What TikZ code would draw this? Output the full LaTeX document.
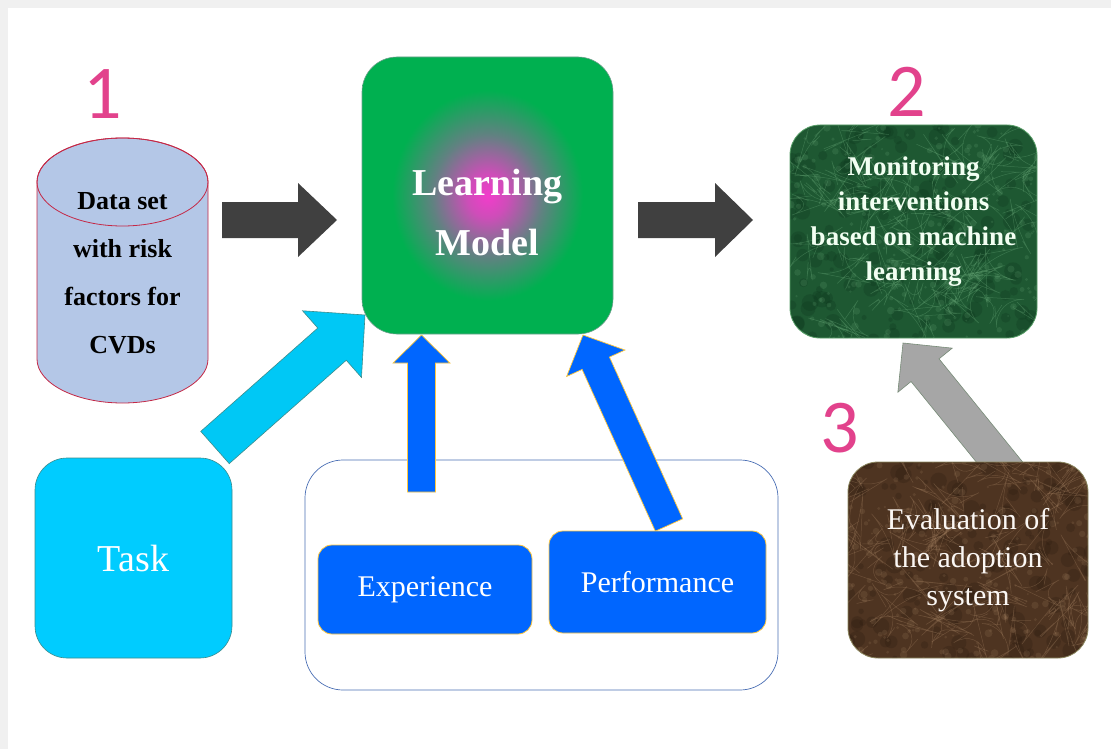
\documentclass[tikz,border=0pt]{standalone}
\usepackage{fontspec}
\setmainfont{Liberation Serif}
\newfontfamily\numfont{Carlito}
\usetikzlibrary{positioning,calc}

\definecolor{numpink}{RGB}{226,66,140}
\definecolor{cylblue}{RGB}{180,199,231}
\definecolor{cylred}{RGB}{196,40,70}
\definecolor{arrowdark}{RGB}{64,64,64}
\definecolor{lmgreen}{RGB}{0,176,80}
\definecolor{lmpink}{RGB}{242,60,203}
\definecolor{lmedge}{RGB}{110,160,140}
\definecolor{mongreen}{RGB}{30,88,50}
\definecolor{monlight}{RGB}{110,175,125}
\definecolor{mondark}{RGB}{12,52,28}
\definecolor{monedge}{RGB}{90,160,105}
\definecolor{evalbrown}{RGB}{78,52,33}
\definecolor{evallight}{RGB}{165,130,98}
\definecolor{evaldark}{RGB}{42,26,16}
\definecolor{evaledge}{RGB}{140,135,95}
\definecolor{taskcyan}{RGB}{0,204,255}
\definecolor{taskedge}{RGB}{60,140,140}
\definecolor{cyanarr}{RGB}{0,200,245}
\definecolor{boxblue}{RGB}{0,102,255}
\definecolor{boxgold}{RGB}{255,200,60}
\definecolor{frameblue}{RGB}{74,111,181}
\definecolor{arrowgray}{RGB}{166,166,166}
\definecolor{grayedge}{RGB}{120,140,120}

\pgfdeclareradialshading{lmglow}{\pgfpoint{0bp}{0bp}}{color(0bp)=(lmpink); color(4bp)=(lmpink!85!lmgreen); color(11bp)=(lmpink!40!lmgreen); color(19bp)=(lmgreen); color(50bp)=(lmgreen)}

% block arrow: [style] {start}{tip}{shaft half}{head half}{head length}
\newcommand\blockarrow[6][]{%
  \coordinate (ba-h) at ($(#3)!#6!(#2)$);
  \filldraw[#1] ($(#2)!#4!90:(#3)$) -- ($(ba-h)!#4!90:(#3)$) -- ($(ba-h)!#5!90:(#3)$) -- (#3)
    -- ($(ba-h)!#5!-90:(#3)$) -- ($(ba-h)!#4!-90:(#3)$) -- ($(#2)!#4!-90:(#3)$) -- cycle;
}

\tikzset{
  marble/.style n args={3}{fill=#1, path picture={%
    \foreach \k in {1,...,160}{\fill[#3, opacity=.25] ($(path picture bounding box.center)+({rand*125},{rand*110})$) circle[radius={2pt+7pt*rnd}];}%
    \foreach \k in {1,...,260}{\fill[#2, opacity=.18] ($(path picture bounding box.center)+({rand*125},{rand*110})$) circle[radius={1pt+3pt*rnd}];}%
    \foreach \k in {1,...,70}{\draw[#2, opacity=.35, line width=.5pt] ($(path picture bounding box.center)+({rand*125},{rand*110})$) -- ++({rand*14},{rand*14}) -- ++({rand*14},{rand*14}) -- ++({rand*14},{rand*14});}%
  }},
}

\pgfmathsetseed{11}

\begin{document}
\begin{tikzpicture}[x=1pt,y=-1pt,
  num/.style={font=\numfont\fontsize{76}{76}\selectfont, text=numpink, inner sep=0pt},
  rbox/.style={rectangle, rounded corners=#1, inner sep=0pt, align=center},
  cylbody/.style={fill=cylblue, draw=cylred, line width=.8pt},
  datatext/.style={align=center, inner sep=0pt, font=\fontsize{26}{48}\selectfont\bfseries},
  lmbox/.style={rbox=35pt, minimum width=251pt, minimum height=277pt, shade, shading=lmglow, draw=lmedge, line width=.6pt},
  lmtext/.style={align=center, text=white, font=\fontsize{38}{60}\selectfont\bfseries},
  monbox/.style={rbox=30pt, minimum width=247pt, minimum height=213pt, marble={mongreen}{monlight}{mondark}, draw=monedge, line width=.8pt},
  montext/.style={align=center, text=white!95!green, font=\fontsize{27}{35}\selectfont\bfseries},
  evalbox/.style={rbox=30pt, minimum width=240pt, minimum height=196pt, marble={evalbrown}{evallight}{evaldark}, draw=evaledge, line width=.8pt},
  evaltext/.style={align=center, text=white!94!brown, font=\fontsize{30}{38}\selectfont},
  taskbox/.style={rbox=32pt, minimum width=197pt, minimum height=200pt, fill=taskcyan, draw=taskedge, line width=.6pt,
    text=white, font=\fontsize{38}{44}\selectfont},
  framebox/.style={rbox=38pt, minimum width=473pt, minimum height=230pt, draw=frameblue, line width=.7pt, fill=white},
  bluebox/.style={rbox=14pt, minimum width=214pt, minimum height=89pt, fill=boxblue, draw=boxgold, line width=.8pt,
    text=white, font=\fontsize{30}{36}\selectfont},
  darkarrow/.style={fill=arrowdark, draw=none},
  cyanarrow/.style={fill=cyanarr, draw=taskedge, line width=.6pt},
  bluearrow/.style={fill=boxblue, draw=boxgold, line width=.7pt},
  grayarrow/.style={fill=arrowgray, draw=grayedge, line width=.6pt}]

% page
\useasboundingbox (0,0) rectangle (1111,749);
\fill[white] (0,0) rectangle (1111,749);
\fill[black!6] (0,0) rectangle (1111,8);
\fill[black!6] (0,0) rectangle (8,749);

% numbers
\node[num] (n1) at (103,94) {1};
\node[num] (n2) at (907,92) {2};
\node[num] (n3) at (840,428) {3};

% data cylinder
\filldraw[cylbody] (37,182) -- (37,359) arc[start angle=180, end angle=0, x radius=85.5, y radius=44]
  -- (208,182) arc[start angle=0, end angle=-180, x radius=85.5, y radius=44] -- cycle;
\draw[cylred, line width=.8pt] (122.5,182) ellipse[x radius=85.5, y radius=44];
\node[datatext] (data) at (122.5,273.5) {Data set\\with risk\\factors for\\CVDs};

% boxes
\node[lmbox] (lm) at (487.5,195.5) {};
\node[lmtext] (lmtxt) at ($(lm.center)+(0,17)$) {Learning\\Model};
\node[monbox] (mon) at (913.5,231.5) {};
\node[montext] (montxt) at ($(mon.center)+(0,-10)$) {Monitoring\\interventions\\based on machine\\learning};
\node[framebox] (frame) at (541.5,575) {};

% arrows
\coordinate (d1s) at (222,220);
\coordinate (d1t) at (337,220);
\coordinate (d2s) at (638,220);
\coordinate (d2t) at (753,220);
\coordinate (cs) at (215,447.5);
\coordinate (ct) at (365,315);
\coordinate (es) at (421.5,492);
\coordinate (et) at (421.5,335);
\coordinate (ps) at (669,525);
\coordinate (pt) at (583,335);
\coordinate (gs) at (1010,475);
\coordinate (gt) at (903,343);
\blockarrow[darkarrow]{d1s}{d1t}{18pt}{37pt}{39pt}
\blockarrow[darkarrow]{d2s}{d2t}{18pt}{37pt}{38pt}
\blockarrow[cyanarrow]{cs}{ct}{21.5pt}{44.5pt}{44pt}
\blockarrow[bluearrow]{es}{et}{14pt}{28.5pt}{28pt}
\blockarrow[bluearrow]{ps}{pt}{15pt}{32pt}{31pt}
\blockarrow[grayarrow]{gs}{gt}{18pt}{35pt}{35pt}

\node[taskbox] (task) at (133.5,558) {Task};
\node[bluebox] (exp) at (425,589.5) {Experience};
\node[bluebox, minimum width=217pt, minimum height=102pt] (perf) at (657.5,582) {Performance};
\node[evalbox] (eval) at (968,560) {};
\node[evaltext] (evaltxt) at (eval.center) {Evaluation of\\the adoption\\system};
\end{tikzpicture}
\end{document}
